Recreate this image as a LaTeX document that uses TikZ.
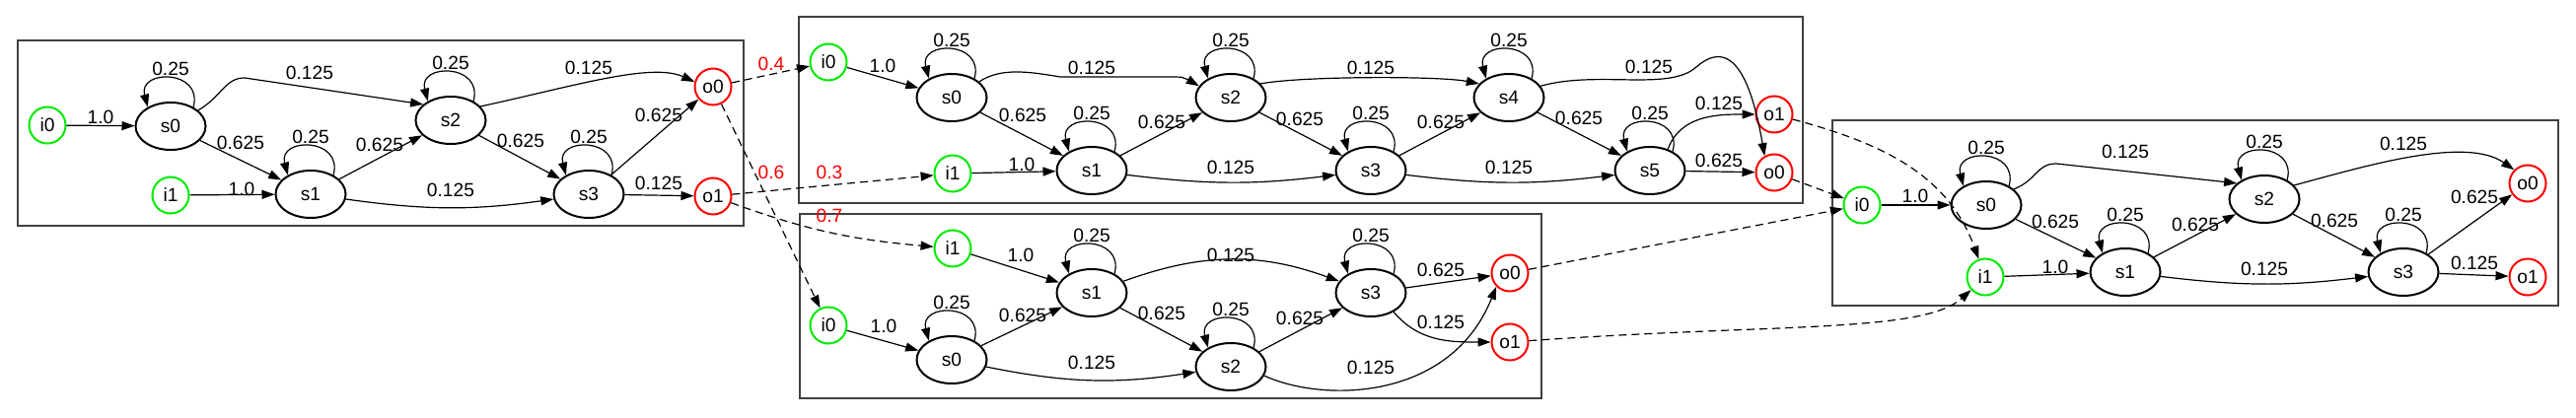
\documentclass[tikz,border=0pt]{standalone}
\usepackage{fontspec}
\setmainfont{Liberation Sans}
\usepackage{tikz}
\usetikzlibrary{arrows.meta,shapes.geometric}

\definecolor{ingreen}{RGB}{0,235,0}
\definecolor{outred}{RGB}{255,0,0}

\begin{document}
\begin{tikzpicture}[
        x=0.5pt, y=0.5pt,
        font=\fontsize{9.6}{11}\selectfont,
        state/.style={draw, ellipse, line width=1pt, minimum width=35.5pt, minimum height=24pt, inner sep=0pt},
        inport/.style={draw=ingreen, circle, line width=1pt, minimum size=18.5pt, inner sep=0pt},
        outport/.style={draw=outred, circle, line width=1pt, minimum size=18.5pt, inner sep=0pt},
        arr/.style={-{Triangle[length=6.5pt, width=4.5pt]}, line width=0.6pt},
        link/.style={arr, dash pattern=on 4pt off 2.5pt},
        lbl/.style={inner sep=1pt},
        prob/.style={lbl, text=outred},
        frame/.style={draw=black!75, line width=0.9pt},
    ]
        \useasboundingbox (0,0) rectangle (2612,423);

        % frames
        \draw[frame] (18,194) rectangle (754,382);
        \draw[frame] (810,217) rectangle (1828,406);
        \draw[frame] (811,19) rectangle (1563,206);
        \draw[frame] (1858,113) rectangle (2594,301);

        % component 1
        \node[inport] (c1i0) at (48,296) {i0};
        \node[state] (c1s0) at (173,295) {s0};
        \node[inport] (c1i1) at (173,225) {i1};
        \node[state] (c1s1) at (315,226) {s1};
        \node[state] (c1s2) at (457,301) {s2};
        \node[state] (c1s3) at (597,226) {s3};
        \node[outport] (c1o0) at (723,335) {o0};
        \node[outport] (c1o1) at (723,224) {o1};
        \draw[arr] (c1i0) -- (c1s0) node[lbl] at (102,304) {1.0};
        \draw[arr] (c1s0.40) .. controls +(75:40) and +(105:40) .. (c1s0.140) node[lbl, midway, above] {0.25};
        \draw[arr] (c1s0.30) .. controls (225,325) and (228,344) .. (248,344) -- (c1s2.150) node[lbl] at (314,349) {0.125};
        \draw[arr] (c1s0) -- (c1s1) node[lbl] at (244,278) {0.625};
        \draw[arr] (c1s1.40) .. controls +(75:40) and +(105:40) .. (c1s1.140) node[lbl, midway, above] {0.25};
        \draw[arr] (c1i1) -- (c1s1) node[lbl] at (245,231) {1.0};
        \draw[arr] (c1s1) -- (c1s2) node[lbl] at (385,276) {0.625};
        \draw[arr] (c1s1) to[bend right=8] (c1s3) node[lbl] at (457,230) {0.125};
        \draw[arr] (c1s2.40) .. controls +(75:40) and +(105:40) .. (c1s2.140) node[lbl, midway, above] {0.25};
        \draw[arr] (c1s2.25) .. controls (580,335) and (660,360) .. (c1o0.165) node[lbl] at (597,354) {0.125};
        \draw[arr] (c1s2) -- (c1s3) node[lbl] at (528,280) {0.625};
        \draw[arr] (c1s3.40) .. controls +(75:40) and +(105:40) .. (c1s3.140) node[lbl, midway, above] {0.25};
        \draw[arr] (c1s3) -- (c1o0) node[lbl] at (668,306) {0.625};
        \draw[arr] (c1s3) -- (c1o1) node[lbl] at (668,237) {0.125};

        % component 2
        \node[inport] (c2i0) at (840,360) {i0};
        \node[state] (c2s0) at (965,324) {s0};
        \node[state] (c2s2) at (1248,324) {s2};
        \node[state] (c2s4) at (1530,324) {s4};
        \node[inport] (c2i1) at (966,247) {i1};
        \node[state] (c2s1) at (1107,250) {s1};
        \node[state] (c2s3) at (1390,250) {s3};
        \node[state] (c2s5) at (1673,250) {s5};
        \node[outport] (c2o1) at (1799,307) {o1};
        \node[outport] (c2o0) at (1799,248) {o0};
        \draw[arr] (c2i0) -- (c2s0) node[lbl] at (895,356) {1.0};
        \draw[arr] (c2s0.40) .. controls +(75:40) and +(105:40) .. (c2s0.140) node[lbl, midway, above] {0.25};
        \draw[arr] (c2s0.30) .. controls (1015,355) and (1045,350) .. (1075,345) -- (1180,345) .. controls (1200,345) .. (c2s2.160) node[lbl] at (1107,354) {0.125};
        \draw[arr] (c2s0) -- (c2s1) node[lbl] at (1037,306) {0.625};
        \draw[arr] (c2s1.40) .. controls +(75:40) and +(105:40) .. (c2s1.140) node[lbl, midway, above] {0.25};
        \draw[arr] (c2i1) -- (c2s1) node[lbl] at (1036,256) {1.0};
        \draw[arr] (c2s1) -- (c2s2) node[lbl] at (1178,299) {0.625};
        \draw[arr] (c2s1) to[bend right=7] (c2s3) node[lbl] at (1248,253) {0.125};
        \draw[arr] (c2s2.40) .. controls +(75:40) and +(105:40) .. (c2s2.140) node[lbl, midway, above] {0.25};
        \draw[arr] (c2s2.25) .. controls (1320,346) and (1460,346) .. (c2s4.155) node[lbl] at (1390,354) {0.125};
        \draw[arr] (c2s2) -- (c2s3) node[lbl] at (1318,302) {0.625};
        \draw[arr] (c2s3.40) .. controls +(75:40) and +(105:40) .. (c2s3.140) node[lbl, midway, above] {0.25};
        \draw[arr] (c2s3) -- (c2s4) node[lbl] at (1461,299) {0.625};
        \draw[arr] (c2s3) to[bend right=7] (c2s5) node[lbl] at (1530,253) {0.125};
        \draw[arr] (c2s4.40) .. controls +(75:40) and +(105:40) .. (c2s4.140) node[lbl, midway, above] {0.25};
        \draw[arr] (c2s4.20) .. controls (1620,352) and (1692,330) .. (1720,355) .. controls (1760,390) and (1778,330) .. (c2o0.120) node[lbl] at (1672,355) {0.125};
        \draw[arr] (c2s4) -- (c2s5) node[lbl] at (1601,303) {0.625};
        \draw[arr] (c2s5.40) .. controls +(75:40) and +(105:40) .. (c2s5.140) node[lbl, midway, above] {0.25};
        \draw[arr] (c2s5.50) to[out=70, in=180] (c2o1) node[lbl] at (1743,318) {0.125};
        \draw[arr] (c2s5) -- (c2o0) node[lbl] at (1743,260) {0.625};

        % component 3
        \node[inport] (c3i1) at (966,171) {i1};
        \node[state] (c3s1) at (1107,126) {s1};
        \node[state] (c3s3) at (1390,126) {s3};
        \node[outport] (c3o0) at (1531,146) {o0};
        \node[outport] (c3o1) at (1531,76) {o1};
        \node[inport] (c3i0) at (840,93) {i0};
        \node[state] (c3s0) at (965,58) {s0};
        \node[state] (c3s2) at (1248,51) {s2};
        \draw[arr] (c3i1) -- (c3s1) node[lbl] at (1035,164) {1.0};
        \draw[arr] (c3s1.40) .. controls +(75:40) and +(105:40) .. (c3s1.140) node[lbl, midway, above] {0.25};
        \draw[arr] (c3s1) to[bend left=20] (c3s3) node[lbl] at (1248,164) {0.125};
        \draw[arr] (c3s1) -- (c3s2) node[lbl] at (1178,105) {0.625};
        \draw[arr] (c3s3.40) .. controls +(75:40) and +(105:40) .. (c3s3.140) node[lbl, midway, above] {0.25};
        \draw[arr] (c3s3) -- (c3o0) node[lbl] at (1461,149) {0.625};
        \draw[arr] (c3s3.-40) to[out=-50, in=180] (c3o1) node[lbl] at (1461,96) {0.125};
        \draw[arr] (c3i0) -- (c3s0) node[lbl] at (896,92) {1.0};
        \draw[arr] (c3s0.40) .. controls +(75:40) and +(105:40) .. (c3s0.140) node[lbl, midway, above] {0.25};
        \draw[arr] (c3s0) -- (c3s1) node[lbl] at (1037,103) {0.625};
        \draw[arr] (c3s0) to[bend right=10] (c3s2) node[lbl] at (1107,55) {0.125};
        \draw[arr] (c3s2.40) .. controls +(75:40) and +(105:40) .. (c3s2.140) node[lbl, midway, above] {0.25};
        \draw[arr] (c3s2) -- (c3s3) node[lbl] at (1318,100) {0.625};
        \draw[arr] (c3s2.-15) .. controls (1340,15) and (1470,15) .. (c3o0.-135) node[lbl] at (1390,50) {0.125};

        % component 4
        \node[inport] (c4i0) at (1888,215) {i0};
        \node[state] (c4s0) at (2014,215) {s0};
        \node[state] (c4s2) at (2296,221) {s2};
        \node[outport] (c4o0) at (2563,237) {o0};
        \node[inport] (c4i1) at (2013,142) {i1};
        \node[state] (c4s1) at (2155,147) {s1};
        \node[state] (c4s3) at (2437,147) {s3};
        \node[outport] (c4o1) at (2563,142) {o1};
        \draw[arr] (c4i0) -- (c4s0) node[lbl] at (1942,224) {1.0};
        \draw[arr] (c4s0.40) .. controls +(75:40) and +(105:40) .. (c4s0.140) node[lbl, midway, above] {0.25};
        \draw[arr] (c4s0.30) .. controls (2065,240) and (2065,257) .. (2085,257) -- (c4s2.150) node[lbl] at (2155,269) {0.125};
        \draw[arr] (c4s0) -- (c4s1) node[lbl] at (2084,198) {0.625};
        \draw[arr] (c4s1.40) .. controls +(75:40) and +(105:40) .. (c4s1.140) node[lbl, midway, above] {0.25};
        \draw[arr] (c4i1) -- (c4s1) node[lbl] at (2084,152) {1.0};
        \draw[arr] (c4s1) -- (c4s2) node[lbl] at (2226,195) {0.625};
        \draw[arr] (c4s1) to[bend right=7] (c4s3) node[lbl] at (2296,150) {0.125};
        \draw[arr] (c4s2.40) .. controls +(75:40) and +(105:40) .. (c4s2.140) node[lbl, midway, above] {0.25};
        \draw[arr] (c4s2.25) .. controls (2400,255) and (2500,285) .. (c4o0.135) node[lbl] at (2437,277) {0.125};
        \draw[arr] (c4s2) -- (c4s3) node[lbl] at (2367,199) {0.625};
        \draw[arr] (c4s3.40) .. controls +(75:40) and +(105:40) .. (c4s3.140) node[lbl, midway, above] {0.25};
        \draw[arr] (c4s3) -- (c4o0) node[lbl] at (2509,223) {0.625};
        \draw[arr] (c4s3) -- (c4o1) node[lbl] at (2509,156) {0.125};

        % links between components
        \draw[link] (c1o0) -- (c2i0) node[prob] at (782,358) {0.4};
        \draw[link] (c1o0) -- (c3i0) node[prob] at (782,248) {0.6};
        \draw[link] (c1o1) -- (c2i1) node[prob] at (841,248) {0.3};
        \draw[link] (c1o1) to[out=-20, in=175] (c3i1) node[prob] at (841,204) {0.7};
        \draw[link] (c2o1) to[out=-15, in=110] (c4i1);
        \draw[link] (c2o0) -- (c4i0);
        \draw[link] (c3o0) -- (c4i0);
        \draw[link] (c3o1) .. controls (1800,95) and (1950,85) .. (c4i1);
    \end{tikzpicture}
\end{document}
